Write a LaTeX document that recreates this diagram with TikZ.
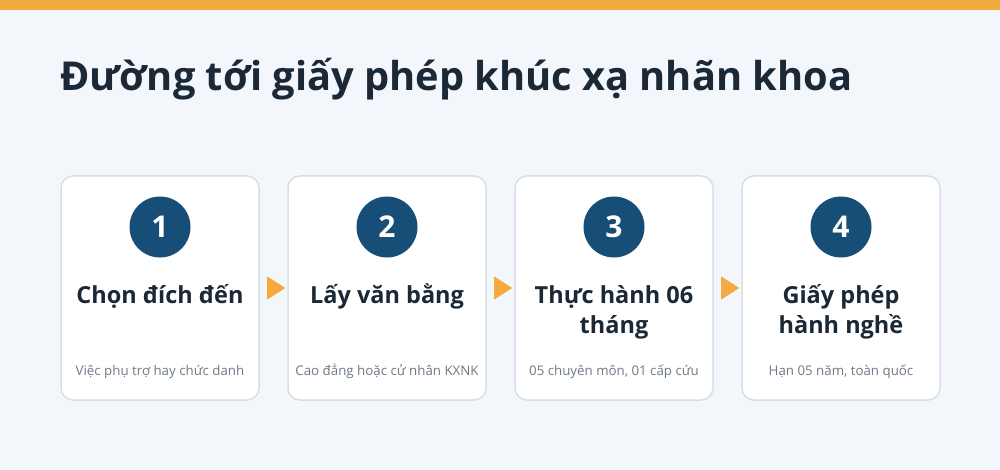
\documentclass[tikz,border=0pt]{standalone}
\usepackage{fontspec}
\setmainfont{Open Sans}
\usetikzlibrary{shapes.geometric,calc}
\definecolor{pagebg}{HTML}{F3F7FB}
\definecolor{topbar}{HTML}{F5AA3D}
\definecolor{cardline}{HTML}{D6DFE8}
\definecolor{dotblue}{HTML}{174E78}
\definecolor{inkdark}{HTML}{1B2936}
\definecolor{inkgray}{HTML}{6E7A86}
\tikzset{
  card/.style={draw=cardline, line width=1.5pt, fill=white, rounded corners=12pt,
    minimum width=198pt, minimum height=224pt},
  numdot/.style={circle, fill=dotblue, minimum size=61pt, inner sep=0pt,
    text=white, font=\bfseries\fontsize{30}{34}\selectfont},
  heading/.style={text=inkdark, align=center, inner sep=0pt,
    font=\bfseries\fontsize{23.5}{30}\selectfont},
  note/.style={text=inkgray, font=\fontsize{13.3}{15}\selectfont},
  tri/.style={isosceles triangle, isosceles triangle apex angle=65, fill=topbar,
    inner sep=0pt, minimum height=18pt, minimum width=23pt}
}

\begin{document}
\begin{tikzpicture}[x=1pt,y=-1pt]
\useasboundingbox (0,0) rectangle (1000,470);
\fill[pagebg] (0,0) rectangle (1000,470);
\fill[topbar] (0,0) rectangle (1000,10);
\node[anchor=base west, inner sep=0pt, text=inkdark,
  font=\bfseries\fontsize{39.8}{46}\selectfont] (title) at (60,91)
  {Đường tới giấy phép khúc xạ nhãn khoa};

% steps
\node[card] (card1) at (160,288) {};
\node[numdot] (num1) at (160,227) {1};
\node[heading, anchor=base] (head1) at (160,303) {Chọn đích đến};
\node[note, anchor=base] (note1) at (160,375) {Việc phụ trợ hay chức danh};

\node[card] (card2) at (387,288) {};
\node[numdot] (num2) at (387,227) {2};
\node[heading, anchor=base] (head2) at (387,303) {Lấy văn bằng};
\node[note, anchor=base] (note2) at (387,375) {Cao đẳng hoặc cử nhân KXNK};

% two-line headings: base is the second line
\node[card] (card3) at (614,288) {};
\node[numdot] (num3) at (614,227) {3};
\node[heading, anchor=base] (head3) at (614,333) {Thực hành 06\\tháng};
\node[note, anchor=base] (note3) at (614,375) {05 chuyên môn, 01 cấp cứu};

\node[card] (card4) at (841,288) {};
\node[numdot] (num4) at (841,227) {4};
\node[heading, anchor=base] (head4) at (841,333) {Giấy phép\\hành nghề};
\node[note, anchor=base] (note4) at (841,375) {Hạn 05 năm, toàn quốc};

% markers between steps
\node[tri] (tri1) at ($(card1.east)!0.5!(card2.west)$) {};
\node[tri] (tri2) at ($(card2.east)!0.5!(card3.west)$) {};
\node[tri] (tri3) at ($(card3.east)!0.5!(card4.west)$) {};
\end{tikzpicture}
\end{document}
